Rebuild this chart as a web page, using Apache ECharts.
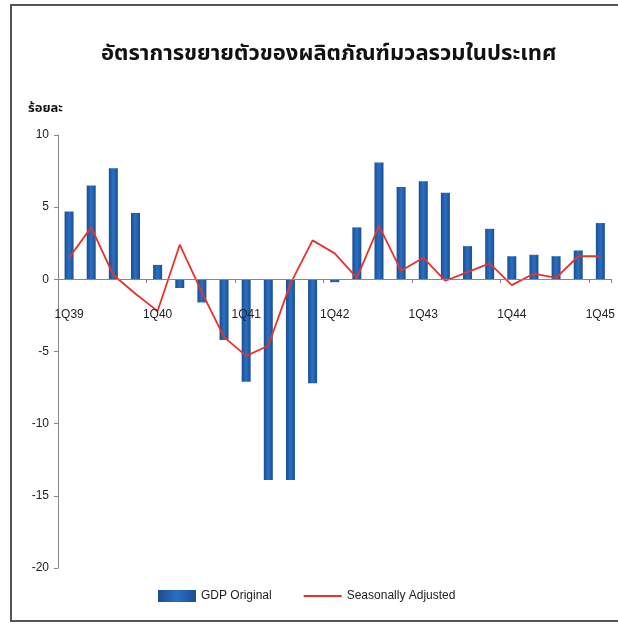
<!DOCTYPE html>
<html>
<head>
<meta charset="utf-8">
<script src="https://cdn.jsdelivr.net/npm/echarts@6/dist/echarts.min.js"></script>
<style>
  html, body { margin: 0; padding: 0; background: #fff; }
  #chart { width: 618px; height: 624px; }
</style>
</head>
<body>
<div id="chart"></div>
<script>
// ไตรมาส 1Q39 - 1Q45
const quarters = [
  '1Q39', '2Q39', '3Q39', '4Q39',
  '1Q40', '2Q40', '3Q40', '4Q40',
  '1Q41', '2Q41', '3Q41', '4Q41',
  '1Q42', '2Q42', '3Q42', '4Q42',
  '1Q43', '2Q43', '3Q43', '4Q43',
  '1Q44', '2Q44', '3Q44', '4Q44',
  '1Q45'
];

// GDP Original (ร้อยละ)
const gdpOriginal = [
  4.7, 6.5, 7.7, 4.6,
  1.0, -0.6, -1.6, -4.2,
  -7.1, -13.9, -13.9, -7.2,
  -0.2, 3.6, 8.1, 6.4,
  6.8, 6.0, 2.3, 3.5,
  1.6, 1.7, 1.6, 2.0,
  3.9
];

// Seasonally Adjusted (ร้อยละ)
const seasonallyAdjusted = [
  1.5, 3.6, 0.3, -1.0,
  -2.2, 2.4, -0.9, -4.0,
  -5.3, -4.6, -0.3, 2.7,
  1.8, 0.1, 3.7, 0.6,
  1.5, -0.1, 0.5, 1.1,
  -0.4, 0.4, 0.1, 1.6,
  1.6
];

const yTicks = { min: -20, max: 10, interval: 5 };

const chart = echarts.init(document.getElementById('chart'));

const thaiFont = "'Noto Sans Thai', 'Noto Serif Thai', 'Loma', 'Garuda', 'DejaVu Sans', sans-serif";
const latinFont = "'Liberation Sans', Arial, sans-serif";

// แกน x วางที่ระดับ 0 (grid สูง 433px, ช่วง -20..10)
const gridTop = 135;
const gridBottom = 56;
const zeroOffset = -Math.round(433 * 20 / 30);

const option = {
  backgroundColor: '#fff',
  animation: false,
  title: {
    text: 'อัตราการขยายตัวของผลิตภัณฑ์มวลรวมในประเทศ',
    left: 96,
    top: 40,
    textStyle: {
      fontFamily: thaiFont,
      fontSize: 22,
      fontWeight: 'bold',
      color: '#111'
    }
  },
  graphic: [
    {
      type: 'rect',
      shape: { x: 11, y: 5, width: 620, height: 616 },
      style: { fill: 'none', stroke: '#555', lineWidth: 2 },
      silent: true
    },
    {
      type: 'text',
      left: 28,
      top: 103,
      style: {
        text: 'ร้อยละ',
        font: "bold 13px " + thaiFont,
        fill: '#111'
      }
    }
  ],
  legend: {
    left: 153,
    top: 585,
    itemWidth: 38,
    itemHeight: 12,
    itemGap: 31,
    textStyle: { fontFamily: latinFont, fontSize: 12, color: '#222' },
    data: [
      { name: 'GDP Original', icon: 'rect' },
      { name: 'Seasonally Adjusted', itemStyle: { opacity: 0 } }
    ]
  },
  grid: {
    left: 58,
    right: 5,
    top: gridTop,
    bottom: gridBottom
  },
  xAxis: {
    type: 'category',
    data: quarters,
    boundaryGap: true,
    offset: zeroOffset,
    axisLine: { onZero: false, lineStyle: { color: '#888', width: 1 } },
    axisTick: { show: true, interval: 3, length: 4, lineStyle: { color: '#888' } },
    axisLabel: {
      interval: 3,
      margin: 30,
      fontFamily: latinFont,
      fontSize: 12,
      color: '#222'
    },
    z: 10
  },
  yAxis: {
    type: 'value',
    min: yTicks.min,
    max: yTicks.max,
    interval: yTicks.interval,
    splitLine: { show: false },
    axisLine: { show: true, lineStyle: { color: '#888' } },
    axisTick: { show: true, length: 4, lineStyle: { color: '#888' } },
    axisLabel: {
      margin: 9,
      fontFamily: latinFont,
      fontSize: 12,
      color: '#222'
    }
  },
  series: [
    {
      name: 'GDP Original',
      type: 'bar',
      data: gdpOriginal,
      barWidth: 9,
      itemStyle: {
        color: new echarts.graphic.LinearGradient(0, 0, 1, 0, [
          { offset: 0, color: '#1a4e94' },
          { offset: 0.5, color: '#2a70c2' },
          { offset: 1, color: '#1a4e94' }
        ])
      }
    },
    {
      name: 'Seasonally Adjusted',
      type: 'line',
      data: seasonallyAdjusted,
      symbol: 'none',
      lineStyle: { color: '#e8322c', width: 1.8 },
      itemStyle: { color: '#e8322c' }
    }
  ]
};

chart.setOption(option);
</script>
</body>
</html>
